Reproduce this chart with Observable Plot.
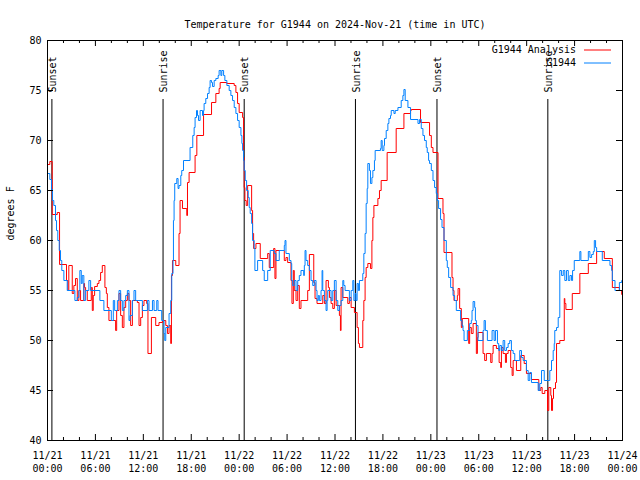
<!DOCTYPE html>
<html><head><meta charset="utf-8">
<script src="https://cdn.jsdelivr.net/npm/d3@7"></script>
<script src="https://cdn.jsdelivr.net/npm/@observablehq/plot@0.6"></script>
<style>body{margin:0;background:#fff;}</style>
</head><body><div id="chart"></div>
<script>
const title = "Temperature for G1944 on 2024-Nov-21 (time in UTC)";
const yLabel = "degrees F";
const startDay = "2024-11-21T00:00:00Z";
const spanHours = 72;
const yTicks = [40, 45, 50, 55, 60, 65, 70, 75, 80];
const labelTickHours = [0, 6, 12, 18, 24, 30, 36, 42, 48, 54, 60, 66, 72];
const minorTickHours = [2, 4, 8, 10, 14, 16, 20, 22, 26, 28, 32, 34, 38, 40, 44, 46, 50, 52, 56, 58, 62, 64, 68, 70];
const eventHours = [0.55, 14.47, 24.63, 38.56, 48.77, 62.65];
const eventLabels = ["Sunset", "Sunrise", "Sunset", "Sunrise", "Sunset", "Sunrise"];
const seriesNames = ["G1944 Analysis", "G1944"];
const seriesColors = ["#ff0000", "#0080ff"];

// [hours since start, degrees F]
const analysisData = [[0,67.6],[0.29,67.9],[0.59,62.6],[1.22,62.8],[1.51,57.6],[2.38,56],[2.55,55],[2.67,57.5],[3.1,54.7],[3.3,55.5],[3.51,56.2],[3.73,54],[3.93,55],[4.14,54],[4.55,55.7],[4.64,55.3],[4.77,55],[4.98,54],[5.48,55.3],[5.61,53],[5.73,54.5],[5.9,55.4],[6.24,55.7],[6.44,56],[6.65,56.8],[6.86,57.5],[7.19,55.3],[7.37,54.7],[7.49,53.3],[7.69,52],[8.53,51],[8.66,53],[8.95,54.7],[9.16,52.5],[9.37,51.3],[9.57,53.3],[9.79,54],[10.0,54.7],[10.2,54],[10.41,51.5],[10.63,54],[11.25,53.8],[11.46,51.5],[11.67,52.3],[11.88,53.5],[12.08,54],[12.42,53.7],[12.58,48.7],[13.01,52.3],[13.55,51.5],[13.96,51.8],[14.39,52],[14.81,51.5],[15.02,50.7],[15.22,51.5],[15.43,49.7],[15.52,56.5],[15.65,58],[16.06,57.5],[16.47,60.7],[16.6,64],[16.9,63.2],[17.44,62.5],[17.53,65.8],[17.73,66.8],[18.48,68.5],[18.7,70.5],[19.54,72.6],[20.54,73.8],[21.08,74.7],[21.49,75.2],[21.62,75.8],[22.46,75.7],[23.38,75.5],[23.59,74.8],[23.8,73.7],[24.0,72.8],[24.43,72.3],[24.55,68.3],[24.63,65.3],[24.72,64],[24.88,63.5],[25.06,65.5],[25.56,63],[25.68,60.7],[25.81,59.2],[26.1,59.7],[26.64,58.2],[27.57,58.7],[27.77,57.3],[28.32,59.2],[28.48,56.2],[28.61,59],[29.65,58],[29.86,58.3],[30.07,57.8],[30.49,56],[30.61,53.7],[30.78,57],[30.9,55],[31.12,54],[31.33,55.5],[31.53,53.2],[31.74,54],[32.58,55],[32.79,58.6],[33.34,55.8],[33.5,54.2],[33.75,53.7],[34.47,54.5],[34.67,53.7],[34.88,56],[35.17,55.3],[35.3,54.3],[35.51,53.7],[35.72,53.2],[35.92,55],[36.14,53.5],[36.55,52.5],[36.68,51],[36.76,55.3],[36.98,54.3],[37.6,53.7],[37.8,54.3],[38.02,53.3],[38.43,52.8],[38.77,51.3],[38.93,49.7],[39.06,49.3],[39.48,52],[39.61,54],[39.77,56.3],[39.9,57.3],[40.11,57.7],[40.44,57.2],[40.62,60],[40.74,62.3],[40.87,63.5],[41.37,64.2],[41.57,65],[41.78,66],[42.53,68.8],[43.66,71.2],[44.63,72.7],[45.46,73],[45.55,73.1],[46.71,71.8],[47.84,70.5],[48.06,69.3],[48.27,68.8],[48.9,64.2],[49.52,62.7],[49.65,58.8],[50.65,56.3],[50.78,55],[50.9,54],[51.32,54.5],[51.41,55.2],[51.61,53.2],[51.82,51.3],[51.94,52.2],[52.74,49.7],[52.86,51.3],[53.07,50.7],[53.29,51.7],[53.7,48.7],[53.83,50.3],[53.91,50.8],[54.54,48.7],[54.74,48],[54.96,48.7],[55.5,47.8],[55.67,48.7],[55.8,49.5],[56.21,49.2],[56.55,47.8],[56.75,47.3],[56.84,49.3],[57.05,48.7],[57.34,47.8],[57.47,48.7],[57.68,49],[58.0,47.3],[58.18,46.5],[58.31,48],[58.72,47],[59.26,48.5],[59.69,47.7],[59.97,46.7],[60.6,46.1],[61.52,45],[61.77,45.3],[61.94,44.7],[62.27,45],[62.61,43],[62.77,45.3],[63.02,44.5],[63.11,43],[63.24,44.2],[63.36,45.2],[63.61,45.8],[63.74,49.7],[64.15,50],[64.71,54.2],[64.78,53.7],[64.91,53.1],[65.71,54.7],[66.66,56.7],[67.72,57.7],[68.76,58.9],[69.72,58.2],[70.73,55.3],[71.61,55],[71.9,54.6],[72,54.6]];

const observedData = [[0,66.7],[0.29,66.1],[0.5,65.1],[0.63,64],[0.79,63.5],[1.0,62],[1.13,61],[1.29,60],[1.47,59],[1.63,58],[1.79,57],[2.05,56],[2.47,55],[3.43,54],[3.73,54.3],[3.93,55],[4.05,57],[4.23,55.7],[4.35,56.5],[4.55,54],[4.77,55],[5.18,56],[5.4,55],[6.56,54],[7.06,53],[7.99,52],[8.24,54],[8.41,53],[8.75,54],[8.95,55],[9.16,54],[9.37,53],[9.57,54],[9.79,54.5],[10.0,55],[10.2,52],[10.33,52.5],[10.63,54],[10.83,55],[11.04,54],[11.88,53],[12.51,54],[12.71,53],[13.14,54],[13.34,53],[13.68,54],[13.84,53],[14.3,52],[14.59,50.7],[14.68,50],[14.81,51.3],[15.22,52.7],[15.43,54],[15.56,56.7],[15.72,58],[15.77,62],[15.85,64],[15.93,65.7],[16.19,66.2],[16.35,65.2],[16.47,65.5],[16.69,66.5],[16.81,67],[17.03,68],[17.85,69.3],[18.19,70.5],[18.36,71.3],[18.48,72.3],[18.66,73],[18.78,72.5],[18.91,72],[19.11,73],[19.41,72.5],[19.54,73],[19.61,73.7],[19.82,74.2],[20.04,74.7],[20.24,75.3],[20.36,76],[20.54,75.8],[20.66,75.4],[20.87,76],[21.08,76.2],[21.37,76.5],[21.49,77],[21.71,76.5],[21.83,77],[22.05,76.5],[22.21,76],[22.46,75.5],[22.75,75],[22.96,74.5],[23.17,74],[23.38,73.3],[23.59,72.7],[23.8,72],[24.0,71.3],[24.22,70.5],[24.34,69.7],[24.43,69],[24.55,68],[24.63,67],[24.76,66],[24.93,65],[25.13,64.3],[25.26,63.3],[25.38,62.7],[25.56,61.7],[25.68,60],[25.88,59.2],[25.97,57],[26.31,58],[26.94,57],[27.14,56],[27.57,57],[27.89,59],[28.39,58.7],[28.61,58],[29.02,59],[29.65,59.5],[29.74,60],[29.86,58.7],[30.28,58],[30.49,57.7],[30.58,56],[30.7,55.5],[30.9,56],[31.12,55],[31.33,56],[31.53,56.5],[31.74,57],[32.08,56.5],[32.16,57.5],[32.25,59],[32.37,58],[32.58,57.5],[32.79,57],[33.0,56],[33.21,55.5],[33.41,56],[33.63,55],[33.75,54],[33.91,54.5],[34.04,54],[34.25,55],[34.38,57],[34.47,55],[34.67,54],[34.88,53],[35.01,54],[35.09,55],[35.51,54],[35.72,55],[35.92,56],[36.14,54],[36.35,53],[36.55,53.5],[36.76,54],[36.98,56],[37.1,55.5],[37.26,55],[37.8,54],[38.02,55],[38.23,56],[38.36,54],[38.52,54.7],[38.64,54],[38.77,55.7],[38.93,55],[39.06,56],[39.48,56.7],[39.61,58.7],[39.77,60.7],[39.9,63.7],[40.03,65.2],[40.11,67.7],[40.31,67],[40.44,65.7],[40.62,66.3],[40.74,67],[40.94,68],[41.03,69],[41.69,69.2],[41.78,70],[41.91,69],[42.12,69.5],[42.2,70.2],[42.41,71],[42.62,71.7],[42.75,72.2],[42.95,72.5],[43.04,73],[43.38,72.7],[43.54,73],[43.88,73.3],[44.29,74],[44.5,74.5],[44.63,75.1],[44.79,74],[45.13,73.3],[45.46,72.1],[46.39,71.7],[46.59,72.1],[46.8,71.2],[47.01,70.5],[47.21,70],[47.43,69.3],[47.55,68.8],[47.72,68],[47.84,67.7],[48.06,67],[48.27,66],[48.47,65.3],[48.68,64.7],[48.81,64],[48.97,63.2],[49.22,62.1],[49.4,61.3],[49.65,60],[49.94,58],[50.06,57.3],[50.23,56.3],[50.48,55.3],[50.78,54.5],[50.98,54],[51.19,53],[51.73,52],[51.91,51.5],[52.03,51],[52.16,50],[52.57,51],[52.86,51.7],[53.07,52],[53.16,53],[53.29,53.9],[53.49,53.3],[53.58,52],[53.7,51.5],[53.91,50],[54.54,51],[54.67,52],[54.83,51],[55.08,50],[55.67,51],[55.92,50],[56.09,51],[56.34,49.7],[56.5,49],[56.63,49.5],[56.84,49],[57.05,50],[57.25,49],[57.47,49.3],[57.68,49.7],[57.88,50],[58.09,49],[58.31,48.7],[58.51,48],[59.13,49],[59.35,48.3],[59.56,48],[59.97,47],[60.19,46],[60.39,46.8],[60.6,45.8],[61.44,45],[61.64,45.7],[61.86,47],[62.2,46],[62.9,47],[63.11,48],[63.32,49],[63.45,49.7],[63.52,51],[63.74,51.3],[63.95,52.3],[64.15,57],[64.37,56.5],[64.58,57],[64.78,56],[64.99,57],[65.21,56],[65.41,56.5],[65.62,56],[65.75,57],[65.96,58],[66.66,58.9],[66.79,58],[67.72,58.9],[67.92,58.3],[68.13,58.6],[68.34,58.9],[68.47,60],[68.63,59.3],[68.76,58.9],[69.47,58],[70.43,57.5],[70.64,57],[70.73,56],[71.06,55],[71.61,55.8],[71.9,56],[72,56]];

const base = new Date(startDay).getTime();
const toTime = h => new Date(base + h * 3600000);
const analysis = analysisData.map(([h, t]) => ({time: toTime(h), temp: t}));
const observed = observedData.map(([h, t]) => ({time: toTime(h), temp: t}));
const events = eventHours.map((h, i) => ({time: toTime(h), label: eventLabels[i]}));
const majorTimes = labelTickHours.map(toTime);
const minorTimes = minorTickHours.map(toTime);

const W = 640, H = 480, mL = 47, mR = 18, mT = 40, mB = 40;
const plotW = W - mL - mR, plotH = H - mT - mB;
const font = "'DejaVu Sans Mono', monospace";

const svg = Plot.plot({
  width: W, height: H,
  marginLeft: mL, marginRight: mR, marginTop: mT, marginBottom: mB,
  style: {fontFamily: font, fontSize: "10px", background: "white", color: "black"},
  x: {type: "utc", domain: [toTime(0), toTime(spanHours)]},
  y: {domain: [40, 80]},
  marks: [
    Plot.ruleX(events, {x: "time", stroke: "black", strokeWidth: 1, insetTop: 59}),
    Plot.text(events, {x: "time", text: "label", frameAnchor: "top", dy: 52, dx: 1, rotate: -90, textAnchor: "start", lineAnchor: "middle", fill: "black"}),
    Plot.line(analysis, {x: "time", y: "temp", curve: "step-after", stroke: seriesColors[0], strokeWidth: 1}),
    Plot.line(observed, {x: "time", y: "temp", curve: "step-after", stroke: seriesColors[1], strokeWidth: 1}),
    Plot.ruleY(yTicks, {stroke: "black", insetRight: plotW - 6}),
    Plot.ruleY(yTicks, {stroke: "black", insetLeft: plotW - 6}),
    Plot.ruleX(majorTimes, {stroke: "black", insetTop: plotH - 6}),
    Plot.ruleX(majorTimes, {stroke: "black", insetBottom: plotH - 6}),
    Plot.ruleX(minorTimes, {stroke: "black", insetTop: plotH - 3}),
    Plot.ruleX(minorTimes, {stroke: "black", insetBottom: plotH - 3}),
    Plot.axisY({ticks: yTicks, tickSize: 0, tickPadding: 6, label: null}),
    Plot.axisX({ticks: majorTimes, tickSize: 0, tickPadding: 9, lineHeight: 1.3, tickFormat: d3.utcFormat("%m/%d\n%H:%M"), label: null}),
    Plot.frame({stroke: "black"}),
    Plot.text([title], {text: d => d, frameAnchor: "top", dy: -20, fill: "black"}),
    Plot.text([yLabel], {text: d => d, frameAnchor: "left", dx: -37, rotate: -90, fill: "black"})
  ]
});

// legend (top right, inside the frame)
const lg = d3.select(svg).append("g").attr("font-family", font).attr("font-size", 10);
seriesNames.forEach((name, i) => {
  const y = 50 + i * 13;
  lg.append("text").attr("x", 576).attr("y", y).attr("dy", "0.32em").attr("text-anchor", "end").attr("fill", "black").text(name);
  lg.append("line").attr("x1", 584).attr("x2", 611).attr("y1", y).attr("y2", y).attr("stroke", seriesColors[i]).attr("stroke-width", 1);
});

document.getElementById("chart").appendChild(svg);
</script>
</body></html>
